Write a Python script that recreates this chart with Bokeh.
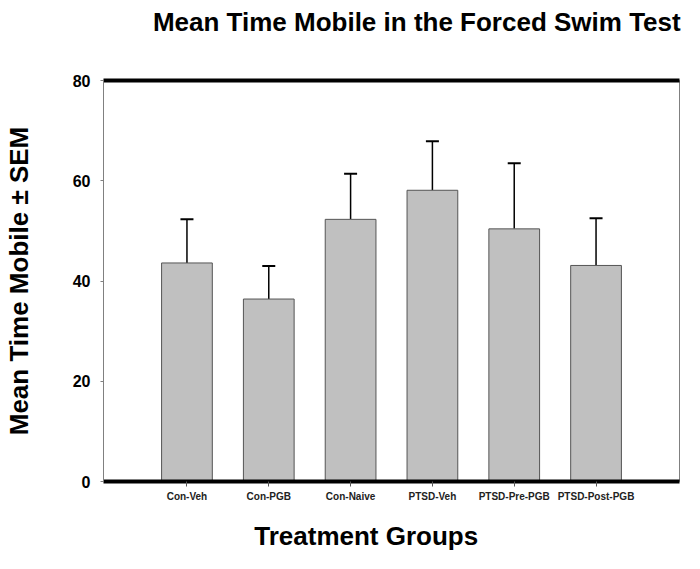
import numpy as np
from bokeh.plotting import figure
from bokeh.models import ColumnDataSource, Range1d, FactorRange, LinearAxis, Whisker, TeeHead, FixedTicker
from bokeh.embed import file_html
from bokeh.resources import INLINE

groups = ["Con-Veh", "Con-PGB", "Con-Naive", "PTSD-Veh", "PTSD-Pre-PGB", "PTSD-Post-PGB"]
means = [43.6, 36.4, 52.3, 58.1, 50.4, 43.1]
sems = [8.7, 6.6, 9.1, 9.8, 13.1, 9.4]
y_ticks = [0, 20, 40, 60, 80]

FONT = "Liberation Sans"
NB = "\u00a0"

upper = (np.array(means) + np.array(sems)).tolist()
src = ColumnDataSource(dict(g=groups, m=means, up=upper))

p = figure(width=684, height=553, output_backend="svg", toolbar_location=None,
           x_range=FactorRange(factors=groups, range_padding=0.52, range_padding_units="absolute"),
           y_range=Range1d(0, 80),
           min_border_left=103, min_border_right=5, min_border_top=80, min_border_bottom=71)

p.vbar(x="g", top="m", width=0.62, source=src, fill_color="#C0C0C0", line_color="#555555", line_width=1)

w = Whisker(base="g", lower="m", upper="up", source=src, line_color="black", line_width=1.5,
            upper_head=TeeHead(size=13, line_color="black", line_width=2), lower_head=None)
p.add_layout(w)

p.grid.visible = False
p.outline_line_color = "#808080"
p.outline_line_width = 1
p.background_fill_color = "white"
p.border_fill_color = "white"

# y axis
ya = p.yaxis[0]
ya.ticker = FixedTicker(ticks=y_ticks)
ya.axis_line_color = "#808080"
ya.major_tick_out = 3
ya.major_tick_in = 0
ya.major_tick_line_color = "#808080"
ya.minor_tick_line_color = None
ya.major_label_standoff = 10
ya.major_label_text_font = FONT
ya.major_label_text_font_style = "bold"
ya.major_label_text_font_size = "16px"
ya.major_label_text_color = "black"
ya.axis_label = "Mean Time Mobile ± SEM"
ya.axis_label_text_font = FONT
ya.axis_label_text_font_style = "bold"
ya.axis_label_text_font_size = "26px"
ya.axis_label_text_color = "black"
ya.axis_label_standoff = 36

# x axis
xa = p.xaxis[0]
xa.axis_line_width = 4
xa.axis_line_color = "black"
xa.major_tick_out = 5
xa.major_tick_in = 0
xa.major_tick_line_color = "#555555"
xa.major_label_standoff = 4
xa.major_label_text_font = FONT
xa.major_label_text_font_style = "bold"
xa.major_label_text_font_size = "10px"
xa.major_label_text_color = "#222222"


def bare_axis(**kw):
    return LinearAxis(ticker=FixedTicker(ticks=[]), major_tick_out=0, major_tick_in=0,
                      minor_tick_out=0, minor_tick_in=0, major_label_standoff=0,
                      major_tick_line_color=None, minor_tick_line_color=None,
                      major_label_text_font_size="0px", **kw)


# top thick line
p.add_layout(bare_axis(axis_line_width=4, axis_line_color="black"), "above")

# chart title (label of a bare axis); leading no-break spaces shift it right like the reference
p.add_layout(bare_axis(axis_line_color=None,
                       axis_label=NB * 7 + "Mean Time Mobile in the Forced Swim Test",
                       axis_label_text_font=FONT, axis_label_text_font_style="bold",
                       axis_label_text_font_size="26px", axis_label_text_color="black",
                       axis_label_standoff=44), "above")

# x-axis title, slightly left of centre as in the reference
p.add_layout(bare_axis(axis_line_color=None,
                       axis_label="Treatment Groups" + NB * 7,
                       axis_label_text_font=FONT, axis_label_text_font_style="bold",
                       axis_label_text_font_size="26px", axis_label_text_color="black",
                       axis_label_standoff=16), "below")

open("out.html", "w").write(file_html(p, INLINE))
